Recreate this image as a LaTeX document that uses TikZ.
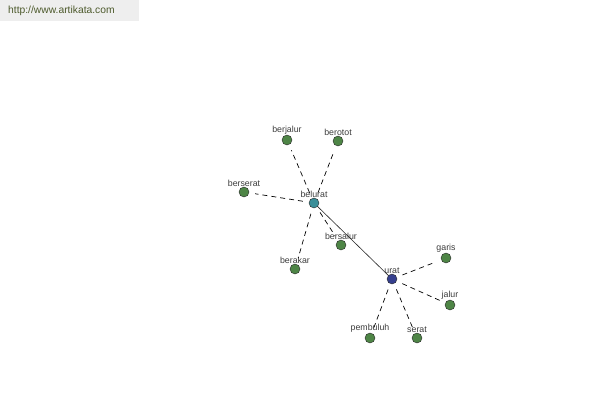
\documentclass[tikz,border=0pt]{standalone}
\usepackage{fontspec}
\setmainfont{Liberation Sans}
\usepackage{xcolor}
\usepackage{tikz}
\definecolor{hoja}{HTML}{4E8546}
\definecolor{raiz}{HTML}{353F8E}
\definecolor{centro}{HTML}{3A8E98}
\definecolor{texto}{HTML}{3C3C3C}
\definecolor{cabecera}{HTML}{EEEEEE}
\definecolor{enlace}{HTML}{4D5A2C}

\begin{document}
\begin{tikzpicture}[x=1pt, y=-1pt,
        punto/.style={circle, draw=black!85, fill=hoja, inner sep=0pt, minimum size=10pt,
            label={[font=\fontsize{8.8}{10}\selectfont, text=texto, inner sep=0.5pt, label distance=0pt]above:#1}},
        guion/.style={draw=black, line width=0.7pt, dash pattern=on 5pt off 4pt, shorten <=6pt, shorten >=6pt}]
        \useasboundingbox (0,0) rectangle (600,400);
        % Cabecera con el enlace
        \fill[cabecera] (0,0) rectangle (139,21);
        \node[anchor=west, text=enlace, font=\fontsize{10.3}{12}\selectfont, inner sep=0pt] (web) at (8,11) {http://www.artikata.com};
        % Nodos principales
        \node[punto=belurat, fill=centro] (belurat) at (314,203) {};
        \node[punto=urat, fill=raiz] (urat) at (392,279) {};
        % Palabras relacionadas
        \node[punto=berjalur] (berjalur) at (287,140) {};
        \node[punto=berotot] (berotot) at (338,141) {};
        \node[punto=berserat] (berserat) at (244,192) {};
        \node[punto=bersalur] (bersalur) at (341,245) {};
        \node[punto=berakar] (berakar) at (295,269) {};
        \node[punto=garis] (garis) at (446,258) {};
        \node[punto=jalur] (jalur) at (450,305) {};
        \node[punto=pembuluh] (pembuluh) at (370,338) {};
        \node[punto=serat] (serat) at (417,338) {};
        % Conexiones
        \draw[black!85, line width=0.6pt] (belurat) -- (urat);
        \foreach \hoja in {berjalur, berotot, berserat, bersalur, berakar}
            \draw[guion] (belurat) -- (\hoja);
        \foreach \hoja in {garis, jalur, pembuluh, serat}
            \draw[guion] (urat) -- (\hoja);
    \end{tikzpicture}
\end{document}
